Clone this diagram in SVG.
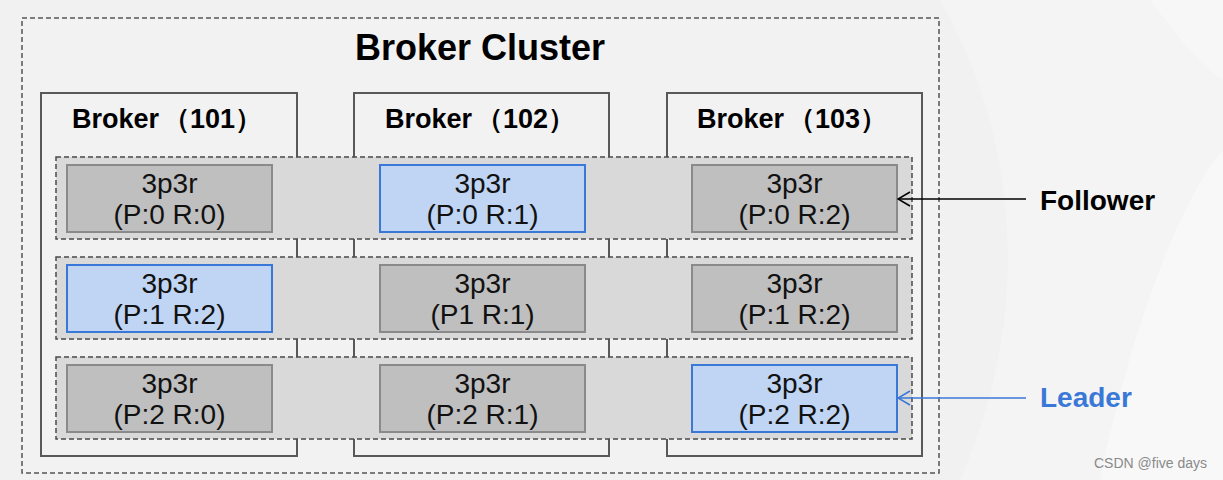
<svg xmlns="http://www.w3.org/2000/svg" width="1223" height="480" viewBox="0 0 1223 480">
<defs>
<style>
.bg{fill:#f1f1f1}
.cluster{fill:#f2f2f2;stroke:#555;stroke-width:1.5;stroke-dasharray:5 3}
.broker{fill:#f2f2f2;stroke:#595959;stroke-width:2}
.row{fill:#d9d9d9;stroke:#4a4a4a;stroke-width:1.5;stroke-dasharray:5 3}
.cell{fill:#bfbfbf;stroke:#8a8a8a;stroke-width:2}
.lead{fill:#c0d5f3;stroke:#3a78d8;stroke-width:2}
.t{font-family:"Liberation Sans",Arial,sans-serif;font-size:28px;fill:#111;text-anchor:middle}
.h{font-family:"Liberation Sans",Arial,sans-serif;font-weight:bold;font-size:27px;fill:#000}
.lbl{font-family:"Liberation Sans",Arial,sans-serif;font-weight:bold;font-size:28px;fill:#000}
.title{font-family:"Liberation Sans",Arial,sans-serif;font-weight:bold;font-size:36px;fill:#000;text-anchor:middle}
.wm{font-family:"Liberation Sans",Arial,sans-serif;font-size:14px;fill:#8a8a8a}
</style>
<marker id="ak" viewBox="0 0 14 16" refX="13" refY="8" markerWidth="14" markerHeight="16" markerUnits="userSpaceOnUse" orient="auto">
<path d="M1,1 L13,8 L1,15" fill="none" stroke="#000" stroke-width="1.5"/>
</marker>
<marker id="ab" viewBox="0 0 14 16" refX="13" refY="8" markerWidth="14" markerHeight="16" markerUnits="userSpaceOnUse" orient="auto">
<path d="M1,1 L13,8 L1,15" fill="none" stroke="#3a78d8" stroke-width="1.5"/>
</marker>
</defs>
<rect class="bg" x="0" y="0" width="1223" height="480"/>
<path d="M940,0 C1010,120 1040,300 960,480 L1223,480 L1223,0 Z" fill="#f4f4f4"/>
<path d="M1100,480 C1130,330 1180,200 1223,150 L1223,480 Z" fill="#f8f8f8"/>
<path d="M1150,0 C1180,40 1205,70 1223,80 L1223,0 Z" fill="#f7f7f7"/>
<g id="cluster">
<rect class="cluster" x="22" y="18" width="917" height="455"/>
<text class="title" x="480" y="60">Broker Cluster</text>
</g>
<g id="broker101">
<rect class="broker" x="41" y="93" width="256" height="363"/>
<text class="h" x="72" y="128">Broker<tspan dx="4">（101）</tspan></text>
</g>
<g id="broker102">
<rect class="broker" x="354" y="93" width="255" height="363"/>
<text class="h" x="385" y="128">Broker<tspan dx="4">（102）</tspan></text>
</g>
<g id="broker103">
<rect class="broker" x="667" y="93" width="255" height="363"/>
<text class="h" x="697" y="128">Broker<tspan dx="4">（103）</tspan></text>
</g>
<g id="row0"><rect class="row" x="56" y="157" width="856" height="82"/></g>
<g id="row1"><rect class="row" x="56" y="257" width="856" height="82"/></g>
<g id="row2"><rect class="row" x="56" y="357" width="856" height="82"/></g>
<g id="p0r0"><rect class="cell" x="67" y="165" width="205" height="67"/><text class="t" x="169.5" y="193">3p3r</text><text class="t" x="169.5" y="224">(P:0 R:0)</text></g>
<g id="p0r1"><rect class="lead" x="380" y="165" width="205" height="67"/><text class="t" x="482.5" y="193">3p3r</text><text class="t" x="482.5" y="224">(P:0 R:1)</text></g>
<g id="p0r2"><rect class="cell" x="692" y="165" width="205" height="67"/><text class="t" x="794.5" y="193">3p3r</text><text class="t" x="794.5" y="224">(P:0 R:2)</text></g>
<g id="p1r2"><rect class="lead" x="67" y="265" width="205" height="67"/><text class="t" x="169.5" y="293">3p3r</text><text class="t" x="169.5" y="324">(P:1 R:2)</text></g>
<g id="p1r1"><rect class="cell" x="380" y="265" width="205" height="67"/><text class="t" x="482.5" y="293">3p3r</text><text class="t" x="482.5" y="324">(P1 R:1)</text></g>
<g id="p1r2b"><rect class="cell" x="692" y="265" width="205" height="67"/><text class="t" x="794.5" y="293">3p3r</text><text class="t" x="794.5" y="324">(P:1 R:2)</text></g>
<g id="p2r0"><rect class="cell" x="67" y="365" width="205" height="67"/><text class="t" x="169.5" y="393">3p3r</text><text class="t" x="169.5" y="424">(P:2 R:0)</text></g>
<g id="p2r1"><rect class="cell" x="380" y="365" width="205" height="67"/><text class="t" x="482.5" y="393">3p3r</text><text class="t" x="482.5" y="424">(P:2 R:1)</text></g>
<g id="p2r2"><rect class="lead" x="692" y="365" width="205" height="67"/><text class="t" x="794.5" y="393">3p3r</text><text class="t" x="794.5" y="424">(P:2 R:2)</text></g>
<g id="follower"><text class="lbl" x="1040" y="210">Follower</text></g>
<g id="leader"><text class="lbl" x="1040" y="407" style="fill:#3a78d8">Leader</text></g>
<g id="connectors">
<line x1="1026" y1="199" x2="898" y2="199" stroke="#000" stroke-width="1.5" marker-end="url(#ak)"/>
<line x1="1026" y1="398" x2="898" y2="398" stroke="#3a78d8" stroke-width="1.5" marker-end="url(#ab)"/>
</g>
<text class="wm" x="1094" y="468">CSDN @five days</text>
</svg>
